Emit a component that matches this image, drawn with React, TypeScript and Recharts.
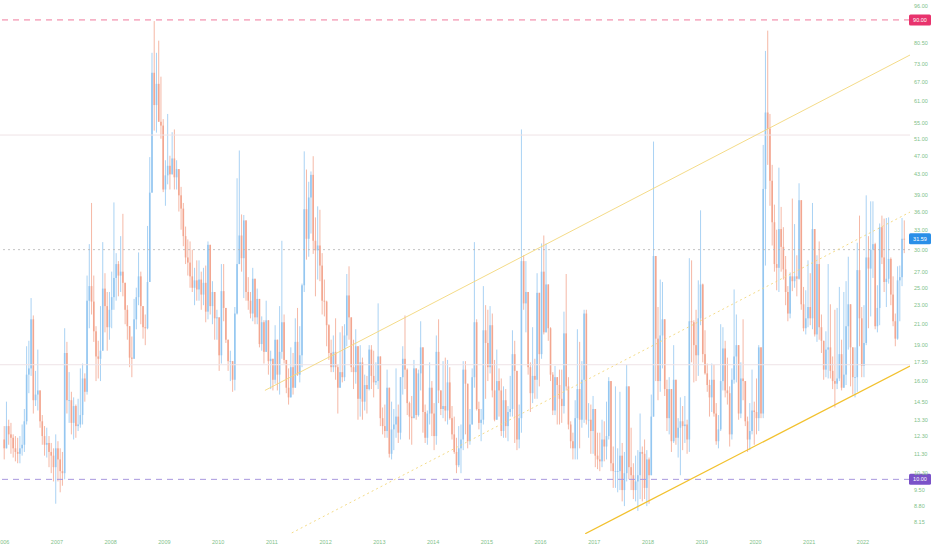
import { Bar, ComposedChart, ReferenceLine, XAxis, YAxis } from "recharts";

// half-month candles, Jan 2006 .. first half of Oct 2022
const firstYear = 2006;
const periodsPerYear = 24;
const firstOpen = 12.1;

const closes = [
  11.6, 12.9, 12.4, 12.2, 11.6, 11.4, 11.3, 11.6, 11.8, 13.2, 16.5, 17.0, 21.5, 14.6, 15.0, 15.3, 13.2, 12.3, 11.8, 11.9, 11.4, 11.2, 10.6, 11.6,
  11.0, 10.4, 10.3, 18.3, 14.6, 14.6, 13.1, 14.2, 12.9, 13.0, 13.6, 16.2, 15.2, 23.5, 25.2, 23.4, 20.3, 18.0, 17.8, 18.5, 24.9, 22.9, 20.7, 22.5,
  23.9, 26.2, 28.0, 26.5, 27.0, 25.6, 22.5, 20.8, 17.9, 17.8, 21.5, 23.9, 26.4, 22.9, 20.7, 20.6, 25.7, 39.4, 69.9, 59.9, 66.3, 55.3, 54.3, 40.0,
  42.8, 44.8, 43.0, 46.4, 42.4, 44.1, 38.9, 36.5, 32.0, 28.9, 28.2, 26.4, 25.0, 25.9, 24.8, 26.0, 24.2, 25.6, 22.3, 30.7, 22.9, 24.5, 21.6, 21.7,
  18.1, 24.6, 22.7, 19.5, 17.6, 17.6, 16.1, 22.1, 28.0, 32.1, 28.8, 34.5, 24.5, 23.5, 22.1, 26.1, 21.7, 23.7, 19.1, 21.2, 18.4, 21.4, 17.6, 17.8,
  16.1, 19.5, 16.5, 18.4, 21.2, 17.7, 15.5, 14.8, 17.1, 15.5, 19.3, 16.5, 18.1, 25.3, 36.4, 31.6, 38.5, 42.9, 31.3, 29.9, 30.6, 27.8, 23.5, 23.4,
  20.9, 18.3, 17.1, 18.4, 17.1, 15.5, 16.7, 16.3, 19.9, 24.1, 21.7, 17.1, 16.7, 18.9, 14.7, 17.5, 14.5, 15.7, 15.4, 18.6, 16.4, 15.9, 16.0, 18.0,
  13.4, 12.9, 12.6, 15.5, 11.3, 12.7, 13.0, 13.5, 12.5, 16.3, 17.8, 16.9, 14.4, 13.5, 13.4, 17.0, 13.6, 16.6, 18.8, 13.8, 12.2, 13.7, 15.5, 13.7,
  12.3, 18.4, 15.3, 14.0, 14.2, 13.9, 15.9, 13.4, 12.4, 11.4, 10.7, 11.6, 12.1, 16.9, 15.8, 12.0, 13.0, 16.3, 21.2, 14.0, 13.1, 13.3, 20.4, 19.2,
  17.1, 20.9, 15.3, 13.3, 16.0, 15.3, 12.6, 14.6, 12.9, 13.8, 14.0, 18.2, 16.8, 12.1, 13.4, 28.4, 23.2, 24.5, 17.1, 15.1, 16.4, 16.1, 24.4, 18.2,
  27.0, 20.2, 25.4, 20.6, 16.5, 13.9, 16.3, 15.7, 14.7, 14.2, 20.1, 15.6, 13.0, 12.0, 11.6, 13.4, 15.4, 13.3, 16.1, 22.1, 13.3, 13.3, 12.6, 14.0,
  11.2, 11.0, 10.9, 12.1, 11.7, 12.3, 16.0, 10.8, 10.4, 10.4, 10.4, 11.2, 9.5, 10.3, 15.6, 10.6, 10.2, 9.5, 9.9, 10.2, 11.4, 11.3, 9.6, 11.0,
  10.2, 13.5, 29.1, 19.6, 16.0, 19.9, 21.5, 15.4, 13.4, 15.4, 12.0, 16.1, 12.2, 12.8, 13.2, 12.9, 13.0, 12.1, 21.3, 21.2, 19.0, 18.1, 21.6, 25.4,
  18.2, 16.6, 15.7, 14.8, 16.1, 13.7, 12.0, 12.7, 16.0, 18.7, 15.3, 15.1, 12.4, 16.1, 18.0, 19.0, 13.7, 16.2, 16.0, 13.2, 12.1, 12.6, 13.9, 13.8,
  13.4, 18.8, 13.7, 40.1, 57.8, 53.5, 41.7, 34.2, 28.0, 27.5, 33.1, 30.4, 27.3, 24.5, 22.1, 26.4, 25.8, 26.4, 26.1, 38.0, 23.1, 20.6, 21.6, 22.8,
  21.6, 33.1, 20.0, 28.0, 20.7, 19.4, 16.9, 18.6, 18.8, 16.8, 16.0, 15.8, 16.2, 18.2, 15.5, 16.5, 20.8, 23.1, 18.8, 16.3, 16.3, 27.2, 21.6, 17.2,
  19.2, 28.9, 27.4, 30.0, 30.8, 20.8, 22.7, 33.4, 28.9, 25.7, 26.1, 28.7, 24.2, 21.3, 19.6, 25.9, 26.3, 31.6, 31.59,
];

const highs = [
  12.9, 14.5, 13.3, 13.1, 12.4, 12.3, 12.2, 12.3, 13.0, 14.0, 18.9, 19.4, 23.8, 21.9, 16.8, 18.6, 15.3, 13.6, 12.9, 12.8, 12.3, 11.9, 11.6, 12.4,
  12.0, 11.6, 11.4, 20.6, 19.3, 16.7, 15.2, 14.8, 14.3, 14.7, 17.0, 17.4, 16.6, 26.5, 30.8, 37.5, 26.5, 20.8, 19.4, 22.9, 31.1, 26.8, 24.5, 24.5,
  27.0, 37.6, 29.5, 28.4, 32.0, 35.6, 25.6, 23.0, 20.3, 19.8, 23.7, 25.0, 29.6, 27.0, 22.6, 22.0, 33.6, 46.7, 76.9, 89.5, 76.9, 81.5, 68.6, 56.0,
  46.0, 57.4, 47.0, 52.6, 53.3, 46.0, 42.6, 40.5, 37.5, 33.5, 31.5, 31.2, 30.0, 27.5, 28.5, 28.5, 27.0, 27.5, 27.8, 31.2, 30.0, 25.8, 24.5, 22.5,
  21.7, 28.0, 28.0, 22.0, 18.5, 18.5, 17.3, 22.8, 42.2, 48.2, 35.5, 35.4, 34.0, 26.3, 24.5, 27.5, 26.0, 24.9, 22.5, 21.8, 21.4, 23.5, 20.0, 18.5,
  17.6, 20.9, 19.0, 22.9, 31.3, 22.0, 17.3, 17.0, 18.8, 18.3, 21.6, 22.7, 20.8, 25.5, 48.0, 44.0, 41.5, 43.6, 46.9, 35.0, 36.9, 36.3, 29.5, 26.0,
  23.5, 21.0, 19.5, 19.9, 21.6, 17.3, 20.2, 20.8, 21.0, 26.7, 27.7, 21.7, 19.5, 20.5, 17.0, 19.0, 17.9, 16.5, 16.4, 19.0, 19.0, 18.5, 17.5, 23.2,
  18.0, 14.1, 14.3, 16.9, 15.2, 14.5, 14.0, 17.0, 14.3, 16.3, 18.9, 21.9, 17.0, 14.5, 14.9, 17.7, 16.8, 16.9, 21.3, 18.8, 14.3, 13.9, 17.5, 16.0,
  14.4, 19.9, 21.5, 15.1, 17.6, 17.9, 17.7, 17.1, 14.2, 13.5, 12.2, 12.9, 13.0, 17.6, 17.6, 14.0, 14.0, 17.0, 31.1, 21.5, 14.5, 14.0, 25.2, 23.0,
  22.5, 22.9, 22.1, 17.7, 18.6, 17.0, 16.2, 15.6, 15.4, 14.2, 16.4, 20.4, 19.4, 14.8, 14.3, 53.3, 29.2, 28.4, 23.0, 17.5, 20.7, 17.8, 26.8, 23.8,
  30.9, 32.1, 30.9, 22.2, 20.7, 16.7, 17.2, 16.0, 16.9, 16.9, 22.3, 26.7, 16.3, 13.2, 12.5, 14.6, 20.5, 19.3, 17.6, 22.5, 22.5, 14.4, 14.3, 14.9,
  14.0, 12.5, 12.5, 13.3, 13.2, 14.5, 16.3, 15.6, 11.7, 15.6, 11.6, 15.2, 11.9, 11.4, 17.3, 14.3, 12.8, 10.8, 11.2, 11.5, 13.7, 11.7, 12.1, 11.5,
  11.1, 15.0, 50.3, 29.1, 22.8, 26.0, 25.7, 18.8, 16.1, 16.3, 15.3, 19.0, 15.5, 13.4, 14.8, 14.2, 14.9, 13.3, 28.8, 28.5, 21.4, 22.5, 25.9, 36.2,
  25.5, 20.4, 17.4, 16.1, 17.4, 17.3, 14.4, 13.6, 21.0, 20.7, 19.4, 17.9, 15.6, 17.0, 24.8, 22.0, 16.6, 17.5, 21.5, 15.5, 13.5, 14.4, 16.9, 14.5,
  16.2, 19.0, 17.1, 49.5, 77.6, 85.5, 57.4, 45.0, 37.2, 33.0, 44.4, 36.8, 33.4, 29.1, 25.2, 26.9, 38.3, 33.9, 29.2, 41.2, 37.2, 25.1, 24.7, 28.5,
  26.8, 37.5, 23.5, 29.2, 31.2, 22.0, 18.7, 20.3, 28.0, 23.1, 18.0, 22.5, 22.7, 25.1, 19.5, 24.5, 25.8, 29.0, 22.4, 17.2, 18.8, 31.0, 35.3, 22.8,
  23.0, 38.9, 32.0, 37.8, 37.8, 31.0, 25.3, 34.0, 35.3, 34.8, 34.9, 35.0, 28.9, 26.4, 22.1, 27.7, 27.8, 34.9, 34.5,
];

const lows = [
  11.0, 11.6, 11.8, 11.3, 11.1, 10.9, 10.8, 10.8, 11.2, 11.4, 13.0, 15.1, 16.4, 13.7, 14.2, 13.9, 12.8, 11.8, 11.2, 11.1, 10.6, 10.3, 9.9, 8.9,
  9.9, 9.4, 9.7, 10.0, 13.7, 13.1, 12.4, 12.1, 12.2, 12.6, 12.8, 13.0, 14.5, 15.0, 20.6, 22.0, 19.3, 16.0, 16.2, 16.0, 18.6, 20.2, 18.5, 19.5,
  20.6, 22.5, 23.5, 24.0, 24.5, 24.0, 21.0, 19.5, 17.1, 16.3, 17.8, 20.5, 23.0, 21.0, 19.6, 19.0, 20.5, 28.0, 39.6, 53.0, 52.5, 58.5, 51.0, 39.5,
  37.0, 41.0, 40.0, 43.0, 40.0, 40.0, 36.0, 33.0, 30.5, 28.0, 26.5, 25.0, 24.5, 23.0, 23.5, 23.5, 22.5, 23.0, 21.2, 21.5, 22.0, 21.0, 19.5, 19.5,
  16.8, 17.4, 21.3, 19.2, 16.8, 16.0, 15.2, 15.3, 22.0, 28.0, 27.0, 23.8, 23.5, 22.5, 21.6, 21.3, 21.0, 21.0, 18.8, 18.5, 17.4, 18.4, 16.5, 15.4,
  15.3, 15.8, 15.3, 15.0, 17.8, 17.4, 15.1, 14.3, 15.3, 15.0, 16.4, 16.4, 15.9, 17.1, 24.5, 28.6, 29.0, 32.4, 29.4, 24.0, 26.0, 25.8, 22.0, 21.8,
  18.9, 17.7, 16.7, 16.7, 16.1, 13.7, 15.6, 15.9, 16.0, 18.9, 19.5, 16.7, 15.4, 15.8, 13.3, 13.5, 13.3, 13.9, 13.7, 15.3, 15.4, 14.8, 15.7, 15.4,
  12.9, 12.4, 12.2, 12.2, 11.1, 11.0, 11.5, 12.2, 11.9, 12.1, 15.0, 15.4, 13.6, 12.1, 11.8, 13.4, 13.3, 13.5, 15.3, 12.5, 11.9, 11.8, 13.0, 12.3,
  11.5, 11.8, 14.4, 13.6, 13.4, 13.2, 13.0, 13.3, 12.1, 11.3, 10.3, 10.6, 10.3, 11.5, 12.4, 11.6, 11.8, 13.0, 15.5, 13.9, 12.7, 12.0, 13.0, 14.7,
  16.0, 16.6, 14.8, 13.2, 13.4, 13.5, 12.3, 12.2, 12.2, 12.0, 13.5, 13.5, 11.9, 11.5, 11.6, 12.5, 22.5, 20.2, 16.5, 13.8, 14.4, 14.7, 14.7, 15.6,
  17.8, 20.0, 20.3, 19.4, 16.0, 13.6, 13.6, 13.0, 13.0, 13.1, 13.7, 15.3, 12.7, 11.6, 11.0, 11.0, 11.0, 11.6, 12.8, 13.1, 13.0, 12.2, 11.3, 11.3,
  10.6, 10.5, 10.4, 10.6, 10.9, 11.0, 12.1, 10.4, 9.6, 9.6, 9.4, 9.5, 9.0, 8.8, 9.9, 10.0, 9.5, 9.1, 9.0, 8.6, 9.1, 9.0, 9.1, 8.8,
  8.9, 10.2, 13.5, 16.0, 14.6, 15.2, 17.0, 14.9, 12.6, 12.4, 11.4, 11.9, 11.8, 11.1, 10.2, 11.5, 11.9, 11.3, 11.4, 17.5, 15.9, 16.0, 16.4, 20.9,
  17.5, 16.5, 15.2, 13.5, 13.8, 13.5, 11.8, 11.6, 12.6, 15.3, 14.8, 14.3, 11.7, 12.1, 15.8, 15.9, 13.3, 13.4, 14.6, 12.9, 11.4, 11.5, 12.4, 11.8,
  12.4, 12.6, 13.4, 13.4, 27.8, 45.0, 37.0, 30.6, 27.0, 24.7, 24.5, 27.0, 26.0, 23.0, 21.3, 21.6, 24.6, 25.0, 24.0, 26.0, 22.5, 20.3, 20.0, 20.7,
  20.9, 20.5, 19.8, 19.3, 19.5, 18.3, 16.1, 16.3, 16.2, 16.2, 15.4, 14.1, 15.4, 16.0, 15.3, 15.7, 15.7, 18.6, 15.6, 15.0, 14.8, 15.2, 18.9, 16.3,
  16.3, 19.0, 20.6, 21.8, 26.2, 20.5, 20.2, 20.9, 28.0, 24.5, 22.8, 25.5, 23.0, 20.8, 18.9, 19.5, 21.3, 25.2, 29.5,
];

const yearTicks = [2006, 2007, 2008, 2009, 2010, 2011, 2012, 2013, 2014, 2015, 2016, 2017, 2018, 2019, 2020, 2021, 2022];
const priceTicks = [8.15, 8.8, 9.5, 10, 10.3, 11.3, 12.3, 13.3, 14.5, 16, 17.5, 19, 21, 23, 25, 27, 30, 31.59, 33, 36, 39, 43, 47, 51, 55, 61, 67, 73, 80.5, 90, 96];

const badges = [
  { value: 90, fill: "#e8336d" },
  { value: 31.59, fill: "#2a8fe8" },
  { value: 10, fill: "#7a52c8" },
];

// trend channel drawn on the chart, [year, price] endpoints
const channelUpper = [[2010.87, 15.3], [2022.875, 76.1]];
const channelMiddle = [[2011.37, 7.74], [2022.875, 35.9]];
const channelLower = [[2016.83, 7.71], [2022.875, 17.2]];

const UP = "#6cb2ec";
const DOWN = "#ef8566";
const AXIS_TEXT = "#7fbf8a";

const candles = closes.map((close, i) => {
  const open = i === 0 ? firstOpen : closes[i - 1];
  const high = Math.max(highs[i], open, close);
  const low = Math.min(lows[i], open, close);
  const t = firstYear + Math.floor(i / periodsPerYear) + ((i % periodsPerYear) + 0.5) / periodsPerYear;
  return { t, open, high, low, close, range: [low, high] };
});

function Candle(props: any) {
  const { x, y, width, height, payload } = props;
  if (!payload || height == null || isNaN(y)) return null;
  const { open, close, high, low } = payload;
  const cx = x + width / 2;
  const span = Math.log(high) - Math.log(low) || 1;
  const toY = (v: number) => y + (height * (Math.log(high) - Math.log(v))) / span;
  const color = close >= open ? UP : DOWN;
  const yo = toY(open);
  const yc = toY(close);
  const top = Math.min(yo, yc);
  return (
    <g opacity={0.72}>
      <line x1={cx} x2={cx} y1={y} y2={y + height} stroke={color} strokeWidth={0.8} />
      <rect x={cx - 0.8} width={1.6} y={top} height={Math.max(Math.abs(yo - yc), 0.8)} fill={color} />
    </g>
  );
}

function PriceTick(props: any) {
  const { y, payload } = props;
  const v = payload.value as number;
  const badge = badges.find((b) => b.value === v);
  if (badge) {
    return (
      <g>
        <rect x={909} y={y - 5.5} width={22} height={11} rx={1.5} fill={badge.fill} />
        <text x={920} y={y + 2} textAnchor="middle" fontSize={5.5} fill="#ffffff" fontFamily="Liberation Sans, Arial, sans-serif">
          {v.toFixed(2)}
        </text>
      </g>
    );
  }
  return (
    <text x={914} y={y + 2} fontSize={5.5} fill={AXIS_TEXT} fontFamily="Liberation Sans, Arial, sans-serif">
      {v.toFixed(2)}
    </text>
  );
}

function segment(line: number[][]) {
  return [
    { x: line[0][0], y: line[0][1] },
    { x: line[1][0], y: line[1][1] },
  ];
}

export default function App() {
  return (
    <div style={{ width: 932, height: 550, background: "#ffffff" }}>
      <style>{`body{margin:0}`}</style>
      <ComposedChart width={932} height={550} data={candles} margin={{ top: 0, right: 0, bottom: 0, left: 0 }}>
        <XAxis
          type="number"
          dataKey="t"
          domain={[2005.94, 2022.875]}
          allowDataOverflow
          ticks={yearTicks}
          interval={0}
          axisLine={false}
          tickLine={false}
          tickSize={0}
          tickMargin={6}
          height={16}
          tick={{ fill: AXIS_TEXT, fontSize: 5.5, fontFamily: "Liberation Sans, Arial, sans-serif" }}
        />
        <YAxis
          orientation="right"
          scale="log"
          domain={[7.7, 99]}
          allowDataOverflow
          ticks={priceTicks}
          interval={0}
          axisLine={false}
          tickLine={false}
          width={22}
          tick={<PriceTick />}
        />
        <ReferenceLine y={51.9} stroke="#efe3e6" strokeWidth={1} />
        <ReferenceLine y={17.3} stroke="#efe3e6" strokeWidth={1} />
        <ReferenceLine y={30} stroke="#b4b4b4" strokeDasharray="2 3" strokeWidth={0.8} />
        <ReferenceLine y={90} stroke="#f07a9c" strokeDasharray="6 5" strokeWidth={1} />
        <ReferenceLine y={10} stroke="#a898de" strokeDasharray="6 5" strokeWidth={1} />
        <Bar dataKey="range" barSize={2} shape={<Candle />} isAnimationActive={false} />
        <ReferenceLine segment={segment(channelUpper)} stroke="#f3d77a" strokeWidth={0.9} ifOverflow="hidden" />
        <ReferenceLine segment={segment(channelMiddle)} stroke="#f3d77a" strokeDasharray="2 3" strokeWidth={0.9} ifOverflow="hidden" />
        <ReferenceLine segment={segment(channelLower)} stroke="#f2c12e" strokeWidth={1.3} ifOverflow="hidden" />
      </ComposedChart>
    </div>
  );
}
